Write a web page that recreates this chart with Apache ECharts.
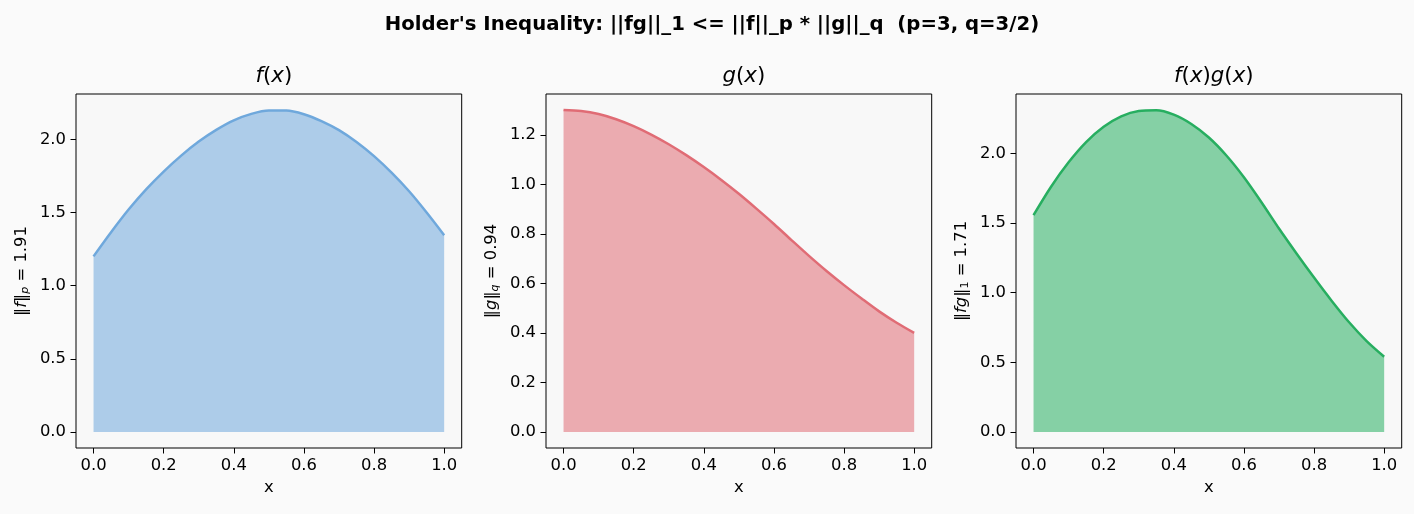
<!DOCTYPE html>
<html>
<head>
<meta charset="utf-8">
<script src="https://cdn.jsdelivr.net/npm/echarts@6/dist/echarts.min.js"></script>
<style>
  html, body { margin: 0; padding: 0; background: #fafafa; }
  #chart { width: 1414px; height: 514px; }
</style>
</head>
<body>
<div id="chart"></div>
<script>
const xs = [0, 0.05, 0.1, 0.15, 0.2, 0.25, 0.3, 0.35, 0.4, 0.45, 0.5,
            0.55, 0.6, 0.65, 0.7, 0.75, 0.8, 0.85, 0.9, 0.95, 1.0];
const fVals = [1.200, 1.365, 1.520, 1.658, 1.780, 1.889, 1.985, 2.065, 2.130, 2.174, 2.197,
               2.197, 2.172, 2.125, 2.063, 1.982, 1.885, 1.772, 1.645, 1.500, 1.345];
const gVals = [1.300, 1.296, 1.284, 1.263, 1.235, 1.201, 1.162, 1.118, 1.070, 1.018, 0.962,
               0.902, 0.840, 0.775, 0.711, 0.650, 0.593, 0.539, 0.487, 0.441, 0.400];
const fgVals = [1.556, 1.760, 1.935, 2.080, 2.190, 2.265, 2.303, 2.308, 2.277, 2.210, 2.113,
                1.984, 1.828, 1.649, 1.460, 1.281, 1.108, 0.942, 0.787, 0.652, 0.540];

const xTicks = [0, 0.2, 0.4, 0.6, 0.8, 1.0];
const fTicks = [0, 0.5, 1.0, 1.5, 2.0];
const gTicks = [0, 0.2, 0.4, 0.6, 0.8, 1.0, 1.2];
const fgTicks = [0, 0.5, 1.0, 1.5, 2.0];

const panels = [
  { vals: fVals, ticks: fTicks, yMin: -0.11, yMax: 2.31, color: "#6fa8dc",
    title: "{i|f}({i|x})", ylabel: "‖{i|f}‖{s|p} = 1.91" },
  { vals: gVals, ticks: gTicks, yMin: -0.065, yMax: 1.365, color: "#e06c75",
    title: "{i|g}({i|x})", ylabel: "‖{i|g}‖{s|q} = 0.94" },
  { vals: fgVals, ticks: fgTicks, yMin: -0.1155, yMax: 2.4255, color: "#27ae60",
    title: "{i|f}({i|x}){i|g}({i|x})", ylabel: "‖{i|fg}‖{n|1} = 1.71" },
];

const font = "DejaVu Sans";
const lefts = [76, 546, 1016];
const gridW = 385.7;
const tickSize = 16.4;

const richMath = {
  i: { fontStyle: "italic", fontFamily: font, fontSize: tickSize, color: "#000" },
  s: { fontStyle: "italic", fontFamily: font, fontSize: 11, color: "#000", padding: [7, 0, 0, 0] },
  n: { fontFamily: font, fontSize: 11, color: "#000", padding: [7, 0, 0, 0] },
};

const chart = echarts.init(document.getElementById("chart"));

const option = {
  animation: false,
  backgroundColor: "#fafafa",
  title: [
    {
      text: "Holder's Inequality: ||fg||_1 <= ||f||_p * ||g||_q  (p=3, q=3/2)",
      left: 707, top: 10, textAlign: "center",
      textStyle: { fontFamily: font, fontWeight: "bold", fontSize: 19.7, color: "#000" },
    },
  ].concat(panels.map((p, k) => ({
    text: p.title,
    left: lefts[k] + gridW / 2, top: 61, textAlign: "center",
    textStyle: {
      fontFamily: font, fontWeight: "normal", fontSize: 21.3, color: "#000",
      rich: { i: { fontStyle: "italic", fontFamily: font, fontSize: 21.3, color: "#000" } },
    },
  }))),
  grid: lefts.map((l) => ({
    left: l, top: 94, width: gridW, height: 354,
    show: true, backgroundColor: "#f8f8f8", borderColor: "#000", borderWidth: 1,
  })),
  xAxis: panels.map((p, k) => ({
    type: "value", gridIndex: k, min: -0.05, max: 1.05,
    name: "x", nameLocation: "middle", nameGap: 32,
    nameTextStyle: { fontFamily: font, fontSize: tickSize, color: "#000" },
    axisLine: { show: false, onZero: false },
    splitLine: { show: false },
    axisTick: { show: true, inside: false, length: 5.5, customValues: xTicks, lineStyle: { color: "#000" } },
    axisLabel: {
      customValues: xTicks, margin: 10, fontFamily: font, fontSize: tickSize, color: "#000",
      formatter: (v) => v.toFixed(1),
    },
  })),
  yAxis: panels.map((p, k) => ({
    type: "value", gridIndex: k, min: p.yMin, max: p.yMax,
    name: p.ylabel, nameLocation: "middle", nameRotate: 90, nameGap: 45,
    nameTextStyle: { fontFamily: font, fontSize: tickSize, color: "#000", rich: richMath },
    axisLine: { show: false, onZero: false },
    splitLine: { show: false },
    axisTick: { show: true, inside: false, length: 5.5, customValues: p.ticks, lineStyle: { color: "#000" } },
    axisLabel: {
      customValues: p.ticks, margin: 10, fontFamily: font, fontSize: tickSize, color: "#000",
      formatter: (v) => v.toFixed(1),
    },
  })),
  series: panels.map((p, k) => ({
    type: "line", xAxisIndex: k, yAxisIndex: k,
    data: xs.map((x, i) => [x, p.vals[i]]),
    smooth: 0.3, showSymbol: false,
    lineStyle: { color: p.color, width: 2.5 },
    areaStyle: { color: p.color, opacity: 0.55 },
  })),
};

chart.setOption(option);
</script>
</body>
</html>
